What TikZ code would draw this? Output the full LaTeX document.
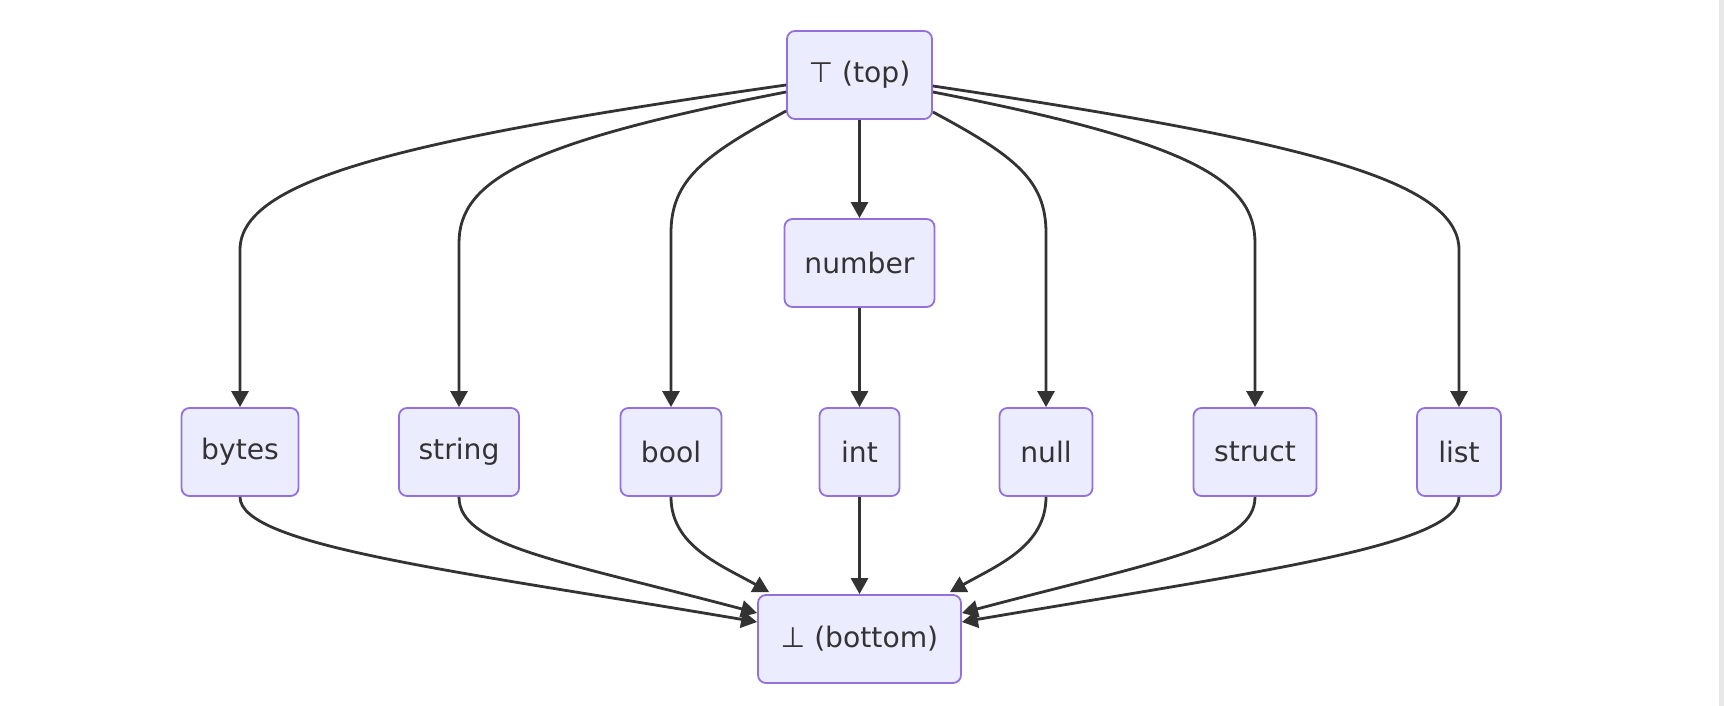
\documentclass[tikz,border=0pt]{standalone}
\usepackage{fontspec}
\setmainfont{DejaVu Sans}
\usetikzlibrary{arrows.meta}

\definecolor{boxfill}{HTML}{ECECFF}
\definecolor{boxline}{HTML}{9370DB}
\definecolor{linkcol}{HTML}{333333}

\begin{document}
\begin{tikzpicture}[x=0.5pt,y=-0.5pt,
	tbox/.style={draw=boxline, fill=boxfill, line width=0.9pt, rounded corners=4pt,
		minimum height=44pt, inner sep=0pt, text=linkcol, font=\fontsize{14.1}{16}\selectfont},
	link/.style={draw=linkcol, line width=1.4pt, -{Triangle[length=8pt,width=8.5pt]}}]

	\useasboundingbox (0,0) rectangle (1724,706);
	\fill[gray!18] (1719,0) rectangle (1724,706);

	% top and bottom of the lattice
	\node[tbox, minimum width=72.5pt] (top) at (859.5,75) {⊤ (top)};
	\node[tbox, minimum width=75pt] (number) at (859.5,263) {number};
	\node[tbox, minimum width=101.5pt] (bottom) at (859.5,639) {⊥ (bottom)};

	% the row of leaf types
	\node[tbox, minimum width=58.5pt] (bytes)  at (240,452)    {bytes};
	\node[tbox, minimum width=60pt]   (string) at (459,452)    {string};
	\node[tbox, minimum width=50.5pt] (bool)   at (671,452)    {bool};
	\node[tbox, minimum width=40pt]   (int)    at (859.5,452)  {int};
	\node[tbox, minimum width=46.5pt] (null)   at (1046,452)   {null};
	\node[tbox, minimum width=61.5pt] (struct) at (1255,452)   {struct};
	\node[tbox, minimum width=42pt]   (list)   at (1459,452)   {list};

	% top -> types
	\draw[link] (top.west |- 0,85) .. controls +(-387,55) and +(0,-70) .. (bytes.north |- 0,250) -- (bytes.north);
	\draw[link] (top.west |- 0,92) .. controls +(-258,50) and +(0,-63) .. (string.north |- 0,243) -- (string.north);
	\draw[link] (top.west |- 0,111) .. controls +(-82,44) and +(0,-53) .. (bool.north |- 0,233) -- (bool.north);
	\draw[link] (top) -- (number);
	\draw[link] (number) -- (int);
	\draw[link] (top.east |- 0,112) .. controls +(82,44) and +(0,-53) .. (null.north |- 0,233) -- (null.north);
	\draw[link] (top.east |- 0,92) .. controls +(258,50) and +(0,-63) .. (struct.north |- 0,243) -- (struct.north);
	\draw[link] (top.east |- 0,86) .. controls +(370,55) and +(0,-70) .. (list.north |- 0,250) -- (list.north);

	% types -> bottom
	\draw[link] (bytes.south) .. controls +(0,49) and +(-300,-51) .. (bottom.west |- 0,622);
	\draw[link] (string.south) .. controls +(0,49) and +(-200,-53) .. (bottom.west |- 0,613);
	\draw[link] (bool.south) .. controls +(0,49) and +(-48,-27) .. ([xshift=6pt,yshift=1pt]bottom.north west);
	\draw[link] (int) -- (bottom);
	\draw[link] (null.south) .. controls +(0,49) and +(48,-27) .. ([xshift=-6pt,yshift=1pt]bottom.north east);
	\draw[link] (struct.south) .. controls +(0,49) and +(200,-53) .. (bottom.east |- 0,613);
	\draw[link] (list.south) .. controls +(0,49) and +(300,-51) .. (bottom.east |- 0,622);
\end{tikzpicture}
\end{document}
